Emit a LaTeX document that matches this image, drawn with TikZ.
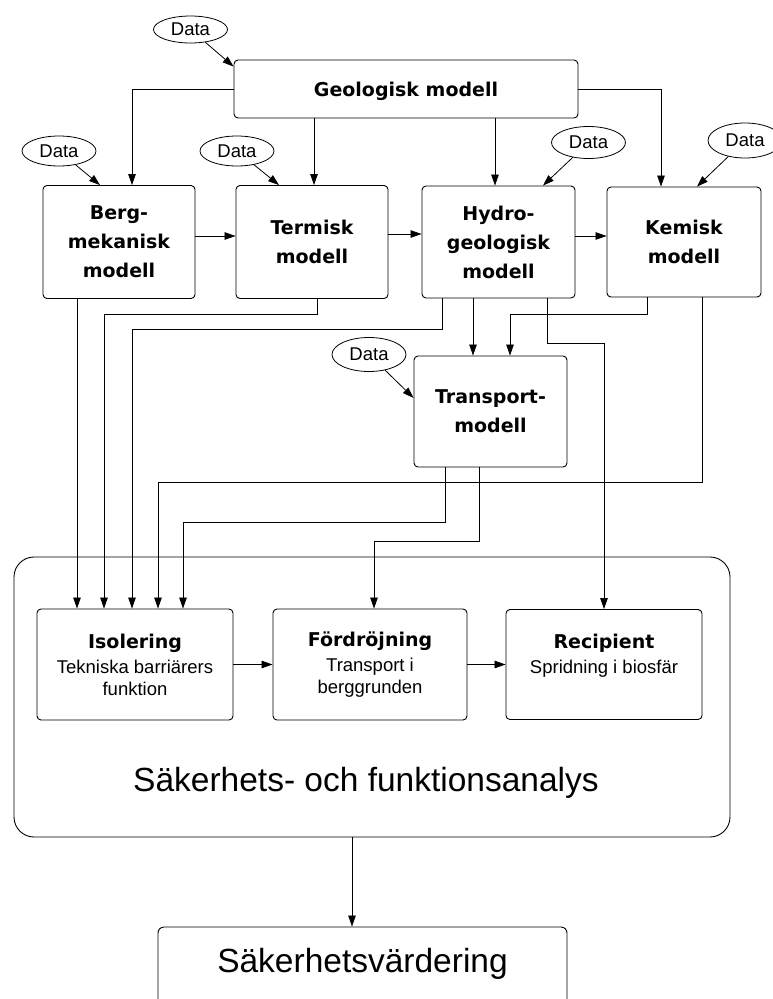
\documentclass[tikz,border=0pt]{standalone}
\usepackage{fontspec}
\setmainfont{Liberation Sans}
\newfontfamily\headfont{DejaVu Sans}
\usetikzlibrary{shapes.geometric, arrows.meta, calc}

\tikzset{
  modelbox/.style={draw, rounded corners=4pt, line width=0.9pt, inner sep=0pt, align=center,
    font=\headfont\bfseries\fontsize{19}{29}\selectfont},
  stagebox/.style={draw, rounded corners=4pt, line width=0.9pt, inner sep=0pt, align=center,
    minimum width=196pt, minimum height=111pt, font=\fontsize{18.5}{22}\selectfont},
  databubble/.style={draw, ellipse, line width=0.8pt, inner sep=0pt,
    minimum width=74pt, minimum height=30pt, font=\fontsize{18.5}{20}\selectfont},
  arr/.style={line width=0.8pt, -{Triangle[length=11pt,width=7.5pt]}},
}
\newcommand{\stagetitle}[1]{{\headfont\bfseries\fontsize{19}{22}\selectfont #1}}

\begin{document}
\begin{tikzpicture}[x=1pt, y=-1pt]
        \useasboundingbox (0,0) rectangle (773,999);

        % Models
        \node[modelbox, minimum width=344pt, minimum height=58pt, text depth=0pt] (geo) at (406,89) {Geologisk modell};
        \node[modelbox, minimum width=152pt, minimum height=113pt] (berg) at (119,242) {Berg-\\mekanisk\\modell};
        \node[modelbox, minimum width=152pt, minimum height=113pt] (term) at (312,242) {Termisk\\modell};
        \node[modelbox, minimum width=153pt, minimum height=112pt] (hydro) at (498.5,242) {Hydro-\\geologisk\\modell};
        \node[modelbox, minimum width=154pt, minimum height=110pt] (kem) at (684,242) {Kemisk\\modell};
        \node[modelbox, minimum width=153pt, minimum height=111pt] (trans) at (490.5,411.5) {Transport-\\modell};

        % Data inputs
        \node[databubble, minimum height=27pt] (d0) at (190.5,29.5) {Data};
        \node[databubble] (d1) at (59,151) {Data};
        \node[databubble] (d2) at (237,151) {Data};
        \node[databubble, minimum height=32pt] (d3) at (588.5,142.5) {Data};
        \node[databubble, minimum height=35pt] (d4) at (745,140.5) {Data};
        \node[databubble, minimum height=34pt] (d5) at (369,354.5) {Data};

        % Analysis frame
        \node[draw, rounded corners=20pt, line width=0.9pt, minimum width=716pt, minimum height=280pt] (analys) at (372,697) {};
        \node[font=\fontsize{33.5}{40}\selectfont] (analystitle) at (366,783) {Säkerhets- och funktionsanalys};
        \node[stagebox] (iso) at (135,664.5) {\stagetitle{Isolering}\\[3pt]Tekniska barriärers\\funktion};
        \node[stagebox, minimum width=194pt] (ford) at (370,664.5) {\stagetitle{Fördröjning}\\[3pt]Transport i\\berggrunden};
        \node[stagebox, minimum height=110pt] (recip) at (604,664.5) {\stagetitle{Recipient}\\[3pt]Spridning i biosfär\\\mbox{}};

        % Evaluation (runs off the lower edge)
        \node[draw, rounded corners=6pt, line width=0.9pt, minimum width=409pt, minimum height=84pt,
              text height=20pt, text depth=14pt, font=\fontsize{33.5}{40}\selectfont] (varde) at (362.5,969) {Säkerhetsvärdering};

        % Data arrows
        \draw[arr] (d0) -- ($(geo.north west)+(0,7)$);
        \draw[arr] (d1) -- ($(berg.north)+(-19,0)$);
        \draw[arr] (d2) -- ($(term.north)+(-33,0)$);
        \draw[arr] (d3) -- ($(hydro.north)+(44.5,0)$);
        \draw[arr] (d4) -- ($(kem.north)+(13,0)$);
        \draw[arr] (d5) -- (trans.170);

        % From the geological model
        \draw[arr] (geo.west) -| ($(berg.north)+(13,0)$);
        \draw[arr] ($(geo.south)+(-92,0)$) coordinate (g1) -- (g1 |- term.north);
        \draw[arr] ($(geo.south)+(89,0)$) coordinate (g2) -- (g2 |- hydro.north);
        \draw[arr] (geo.east) -| ($(kem.north)+(-23,0)$);

        % Along the model row
        \draw[arr] ($(berg.east)+(0,-6)$) -- ($(term.west)+(0,-6)$);
        \draw[arr] ($(term.east)+(0,-8)$) -- ($(hydro.west)+(0,-8)$);
        \draw[arr] ($(hydro.east)+(0,-6)$) -- ($(kem.west)+(0,-6)$);

        % Down to the analysis
        \draw[arr] ($(berg.south)+(-42,0)$) coordinate (b1) -- (b1 |- iso.north);
        \draw[arr] ($(term.south)+(5,0)$) -- ++(0,15.5) -| ($(iso.north)+(-31,0)$);
        \draw[arr] ($(hydro.south)+(-56.5,0)$) -- ++(0,31) -| ($(iso.north)+(-3,0)$);
        \draw[arr] ($(hydro.south)+(-25.5,0)$) coordinate (h2) -- (h2 |- trans.north);
        \draw[arr] ($(kem.south)+(-37,0)$) -- ++(0,17) -| ($(trans.north)+(19.5,0)$);
        \draw[arr] ($(hydro.south)+(48.5,0)$) -- ++(0,45) -| (recip.north);
        \draw[arr] ($(kem.south)+(18,0)$) -- ++(0,185) -| ($(iso.north)+(23,0)$);
        \draw[arr] ($(trans.south)+(-45.5,0)$) -- ++(0,55) -| ($(iso.north)+(48,0)$);
        \draw[arr] ($(trans.south)+(-11.5,0)$) -- ++(0,74) -| ($(ford.north)+(4,0)$);

        % Inside the analysis
        \draw[arr] (iso) -- (ford);
        \draw[arr] (ford) -- (recip);

        % Final evaluation
        \draw[arr] ($(analys.south)+(-20,0)$) coordinate (a1) -- (a1 |- varde.north);
    \end{tikzpicture}
\end{document}
